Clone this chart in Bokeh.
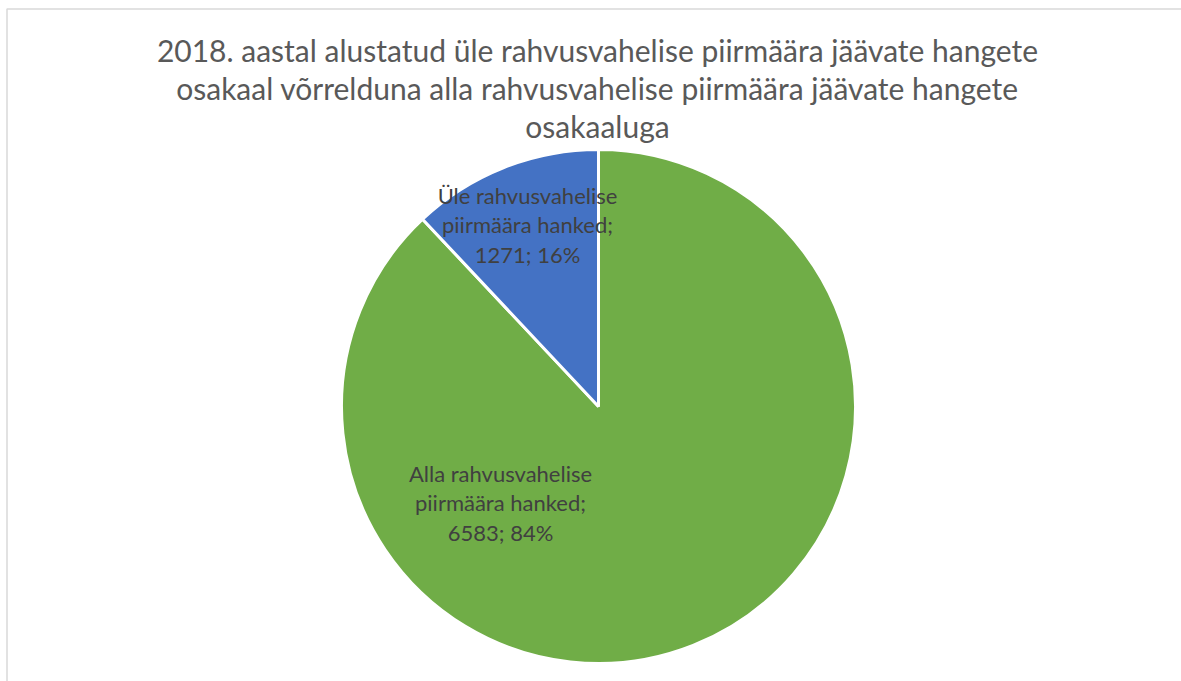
import math
from bokeh.plotting import figure
from bokeh.models import Range1d, ColumnDataSource
from bokeh.core.properties import value
from bokeh.embed import file_html
from bokeh.resources import INLINE

# ---- data ----
categories = ["Alla rahvusvahelise piirmäära hanked", "Üle rahvusvahelise piirmäära hanked"]
counts = [6583, 1271]
percent_labels = ["84%", "16%"]
drawn_shares = [0.88, 0.12]          # slice sizes as drawn in the picture
slice_colors = ["#70AD47", "#4472C4"]
title_lines = [
    "2018. aastal alustatud üle rahvusvahelise piirmäära jäävate hangete",
    "osakaal võrrelduna alla rahvusvahelise piirmäära jäävate hangete",
    "osakaaluga",
]

# ---- layout ----
W, H = 1181, 681
cx, cy, R = 598, H - 406, 257

p = figure(width=W, height=H, x_range=Range1d(0, W), y_range=Range1d(0, H),
           toolbar_location=None, output_backend="svg", min_border=0)
p.axis.visible = False
p.grid.visible = False
p.outline_line_color = None
p.background_fill_color = "white"
p.border_fill_color = "white"

# chart border (light gray frame, clipped by window at right/bottom)
p.quad(left=[6.5], right=[W + 20], top=[H - 8.5], bottom=[-20],
       fill_color=None, line_color="#D9D9D9", line_width=1.5)

# wedges: start at 12 o'clock, go clockwise
starts, ends = [], []
acc = 0.0
for s in drawn_shares:
    a0 = math.pi / 2 - acc * 2 * math.pi
    acc += s
    a1 = math.pi / 2 - acc * 2 * math.pi
    starts.append(a1)
    ends.append(a0)
src = ColumnDataSource(dict(start=starts, end=ends, color=slice_colors))
p.wedge(x=cx, y=cy, radius=R, start_angle="start", end_angle="end",
        fill_color="color", line_color="white", line_width=3, source=src)

# data labels (category; value; percent), three lines each
label_centers = [(500, H - 502), (527, H - 224)]
line_gap = 29.5
for (lx, ly), cat, n, pc in zip(label_centers, categories, counts, percent_labels):
    words = cat.split(" ")
    lines = [words[0] + " " + words[1], " ".join(words[2:]) + ";", f"{n}; {pc}"]
    ys = [ly + line_gap, ly, ly - line_gap]
    p.text(x=[lx] * 3, y=ys, text=lines, text_align="center", text_baseline="middle",
           text_font=value("Lato"), text_font_size="22px", text_color="#404040")

# title
ty = [H - 49, H - 87, H - 125]
p.text(x=[597] * 3, y=ty, text=title_lines, text_align="center", text_baseline="middle",
       text_font=value("Lato"), text_font_size="30px", text_color="#595959")

open("out.html", "w").write(file_html(p, INLINE))
